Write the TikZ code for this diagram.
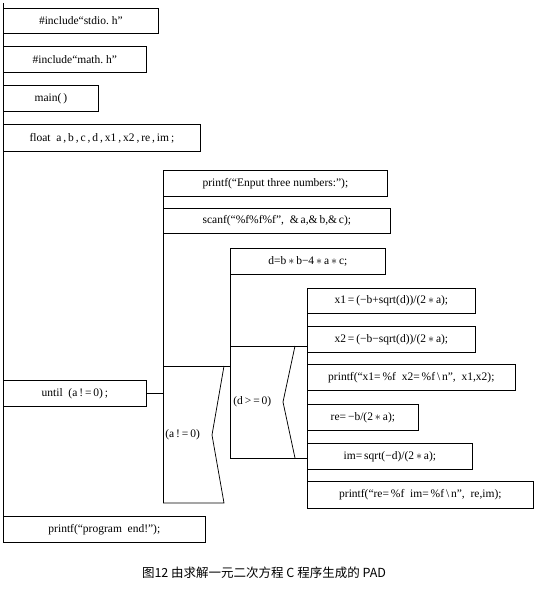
\documentclass[tikz,border=0pt]{standalone}
\usepackage{fontspec}
\setmainfont{Liberation Serif}
\newfontfamily\cjk{Noto Sans CJK SC}
\usepackage{tikz}
\usetikzlibrary{positioning}
\usetikzlibrary{calc}
\tikzset{
    padbox/.style={draw, anchor=north west, inner sep=0pt, minimum height=26pt,
      font=\fontsize{11.5}{13}\selectfont},
    condtext/.style={anchor=west, inner sep=1pt, font=\fontsize{11.5}{13}\selectfont},
  }
\newcommand{\mul}{$*$}

\begin{document}
\begin{tikzpicture}[x=1pt,y=-1pt,line width=0.75pt,line join=miter]
  \useasboundingbox (0,0) rectangle (541,595);
  % main sequence
  \coordinate (start) at (3,3);
  \node[padbox, minimum width=155pt, minimum height=25pt] (stdio) at (3,8) {\#include“stdio.\ h”};
  \node[padbox, minimum width=143pt] (mathh) at (3,46) {\#include“math.\ h”};
  \node[padbox, minimum width=95pt] (mainf) at (3,85) {main(\,)};
  \node[padbox, minimum width=197pt, minimum height=27pt] (decl) at (3,124) {float\ \ a\,,\,b\,,\,c\,,\,d\,,\,x1\,,\,x2\,,\,re\,,\,im\,;};
  \node[padbox, minimum width=143pt] (until) at (3,380) {until\ \ (a\,!\,=\,0)\,;};
  \node[padbox, minimum width=202pt] (prend) at (3,516) {printf(“program\ \ end!”);};
  \draw (start) -- (prend.south west);

  % loop body
  \node[padbox, minimum width=224pt] (prompt) at (163,170) {printf(“Enput three numbers:”);};
  \node[padbox, minimum width=227pt, minimum height=25pt] (scan) at (163,208) {scanf(“\%f\%f\%f”,\ \ \&\,a,\&\,b,\&\,c);};
  \coordinate (selA-tl) at (163,366);
  \coordinate (selA-bl) at (163,503);
  \draw (prompt.north west) -- (selA-bl);
  \draw (until.east) -- (until.east -| selA-tl);

  % selection a!=0
  \coordinate (selA-tr) at (224,366);
  \coordinate (selA-nt) at (212,435);
  \coordinate (selA-br) at (224,503);
  \node[condtext] (condA) at (164,435) {(a\,!\,=\,0)};
  \draw (selA-tr) -- (selA-nt) -- (selA-br) -- (selA-bl);

  % branch a!=0
  \node[padbox, minimum width=155pt] (discr) at (230,248) {d=b\,\mul\,b−4\,\mul\,a\,\mul\,c;};
  \coordinate (selD-bl) at (230,458);
  \draw (discr.north west) -- (selD-bl);
  \draw (selA-tl) -- (selA-tl -| discr.west);

  % selection d>=0
  \coordinate (selD-tl) at (230,346);
  \coordinate (selD-tr) at (295,346);
  \coordinate (selD-nt) at (283,402);
  \coordinate (selD-br) at (295,458);
  \node[condtext] (condD) at (232,402) {(d\,>\,=\,0)};
  \draw (selD-tr) -- (selD-nt) -- (selD-br);

  % branches d>=0
  \node[padbox, minimum width=168pt, minimum height=25pt] (root1) at (307,288) {x1\,=\,(−b+sqrt(d))/(2\,\mul\,a);};
  \node[padbox, minimum width=168pt] (root2) at (307,326) {x2\,=\,(−b−sqrt(d))/(2\,\mul\,a);};
  \node[padbox, minimum width=208pt] (outx) at (307,364) {printf(“x1=\,\%f\ \ x2=\,\%f\,\textbackslash\,n”,\ \ x1,x2);};
  \node[padbox, minimum width=111pt] (repart) at (307,404) {re=\,−b/(2\,\mul\,a);};
  \node[padbox, minimum width=165pt] (impart) at (307,443) {im=\,sqrt(−d)/(2\,\mul\,a);};
  \node[padbox, minimum width=226pt, minimum height=27pt] (outc) at (307,481) {printf(“re=\,\%f\ \ im=\,\%f\,\textbackslash\,n”,\ \ re,im);};
  \draw (root1.north west) -- (outc.south west);
  \draw (selD-tl) -- (selD-tl -| root1.west);
  \draw (selD-bl) -- (selD-bl -| root1.west);

  % caption
  \node[font=\cjk\fontsize{12.5}{15}\selectfont] (caption) at (264,573) {图12\ 由求解一元二次方程\ C\ 程序生成的\ PAD};
\end{tikzpicture}
\end{document}
